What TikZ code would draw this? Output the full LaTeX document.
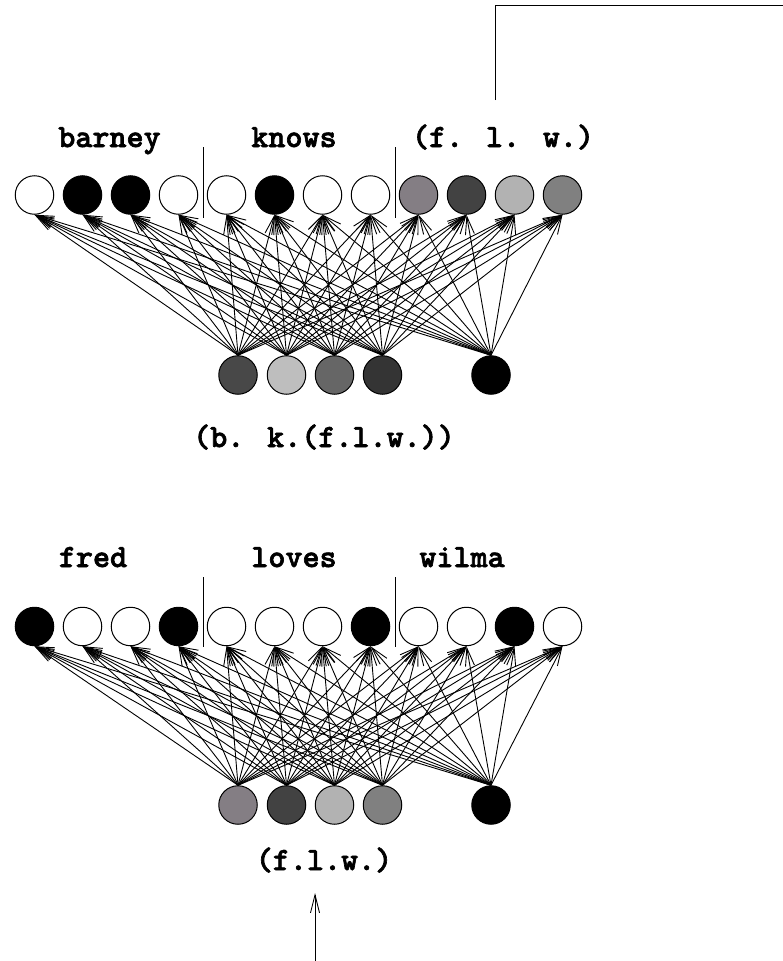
\documentclass[tikz,border=0pt]{standalone}
\usepackage{fontspec}
\usetikzlibrary{arrows.meta}
% unit shades
\definecolor{shadeA}{RGB}{132,126,132}
\definecolor{shadeB}{RGB}{66,66,66}
\definecolor{shadeC}{RGB}{178,178,178}
\definecolor{shadeD}{RGB}{128,128,128}
\definecolor{hidA}{RGB}{72,72,72}
\definecolor{hidB}{RGB}{190,190,190}
\definecolor{hidC}{RGB}{102,102,102}
\definecolor{hidD}{RGB}{52,52,52}
\newfontfamily\wordfam{lmmonolt10-bold.otf}[FakeBold=2]
\newcommand\wordfont{\wordfam\fontsize{32.5}{38}\selectfont}
\begin{document}
\begin{tikzpicture}[x=1pt,y=-1pt,
  unit/.style={circle,draw=black,line width=1pt,minimum size=38.5pt,inner sep=0pt},
  link/.style={line width=0.9pt,-{Straight Barb[length=18pt,width=9pt]}},
  word/.style={font=\wordfont,anchor=base,inner sep=0pt},
  divider/.style={line width=1pt}]
\useasboundingbox (0,0) rectangle (783,961);

% ---------- upper network: (b. k.(f.l.w.)) ----------
\foreach \c [count=\i] in {white,black,black,white,white,black,white,white,shadeA,shadeB,shadeC,shadeD}
  \node[unit,fill=\c] (t\i) at ({34.5+48*(\i-1)},195) {};
\foreach \c/\x [count=\i] in {hidA/238,hidB/286.5,hidC/334.5,hidD/382.5}
  \node[unit,fill=\c] (h\i) at (\x,375) {};
\node[unit,fill=black] (hbias) at (491,375) {};
\foreach \s in {h1,h2,h3,h4,hbias}
  \foreach \t in {1,...,12}
    \draw[link] (\s.north) -- (t\t.south);

\node[word] (lbarney) at (109.5,147) {barney};
\node[word] (lknows) at (294,147) {knows};
\node[word] (lflw) at (503,147) {(f. l. w.)};
\node[word] (lbk) at (324,447) {(b. k.(f.l.w.))};

\coordinate (ua1) at (203,147); \coordinate (ub1) at (203,218);
\coordinate (ua2) at (395,147); \coordinate (ub2) at (395,218);
\draw[divider] (ua1) -- (ub1);
\draw[divider] (ua2) -- (ub2);

% output wire of the upper network
\coordinate (o1) at (495,100);
\coordinate (o2) at (495,5);
\coordinate (o3) at (783,5);
\draw[divider] (o1) -- (o2) -- (o3);

% ---------- lower network: (f.l.w.) ----------
\foreach \c [count=\i] in {black,white,white,black,white,white,white,black,white,white,black,white}
  \node[unit,fill=\c] (b\i) at ({34.5+48*(\i-1)},626.5) {};
\foreach \c/\x [count=\i] in {shadeA/238,shadeB/286.5,shadeC/334.5,shadeD/382.5}
  \node[unit,fill=\c] (g\i) at (\x,805) {};
\node[unit,fill=black] (gbias) at (491,805) {};
\foreach \s in {g1,g2,g3,g4,gbias}
  \foreach \t in {1,...,12}
    \draw[link] (\s.north) -- (b\t.south);

\node[word] (lfred) at (93,567) {fred};
\node[word] (lloves) at (294,567) {loves};
\node[word] (lwilma) at (462,567) {wilma};
\node[word] (lflw2) at (324,870) {(f.l.w.)};

\coordinate (la1) at (203,577); \coordinate (lb1) at (203,647);
\coordinate (la2) at (395,577); \coordinate (lb2) at (395,647);
\draw[divider] (la1) -- (lb1);
\draw[divider] (la2) -- (lb2);

% input wire of the lower network
\coordinate (inS) at (315,961);
\coordinate (inE) at (315,893);
\draw[link] (inS) -- (inE);
\end{tikzpicture}
\end{document}
